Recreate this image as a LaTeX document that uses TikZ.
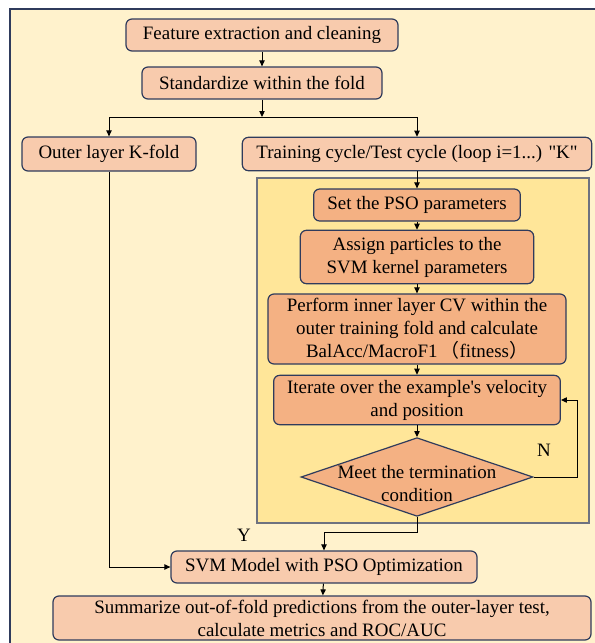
\documentclass[tikz,border=0pt]{standalone}
\usepackage{fontspec}
\setmainfont{Liberation Serif}[Ligatures=TeXOff]
\newfontfamily\cjk{Noto Sans CJK SC}
\usetikzlibrary{shapes.geometric,arrows.meta}
\definecolor{outerbg}{HTML}{FFF2CC}
\definecolor{innerbg}{HTML}{FFE699}
\definecolor{peachlight}{HTML}{F8CBAD}
\definecolor{peachdark}{HTML}{F4B183}
\definecolor{navyline}{HTML}{2F3B5C}
\definecolor{panelline}{HTML}{6E7280}
\tikzset{
	box/.style={draw=navyline, line width=0.9pt, rounded corners=4.5pt, align=center, inner sep=1pt},
	topbox/.style={box, fill=peachlight},
	innerbox/.style={box, fill=peachdark},
	decision/.style={diamond, draw=navyline, line width=0.9pt, fill=peachdark, minimum width=174pt, minimum height=59pt, inner sep=0pt},
	arr/.style={-{Triangle[length=4.5pt,width=4pt]}, line width=0.75pt},
}

\begin{document}
\begin{tikzpicture}[x=0.75pt, y=-0.75pt, font=\fontsize{14.2}{17.25}\selectfont]
				\useasboundingbox (0,0) rectangle (595,643);
				\fill[outerbg] (10,9) rectangle (595,643);
				\draw[navyline, line width=1.2pt] (10,643) -- (10,9) -- (595,9);
				
				\draw[panelline, line width=1pt, fill=innerbg] (257,178) rectangle (589,523);
				
				\node[topbox, minimum width=204pt, minimum height=24pt] (feat) at (262,35) {Feature extraction and cleaning};
				\node[topbox, minimum width=180pt, minimum height=24pt] (std) at (262,83) {Standardize within the fold};
				\coordinate (split) at (262,117);
				\node[topbox, minimum width=130.5pt, minimum height=25.5pt] (outer) at (109,154) {Outer layer K-fold};
				\node[topbox, minimum width=262pt, minimum height=25pt] (train) at (417,154) {Training cycle/Test cycle (loop i=1...) "K"};
				
				\node[innerbox, minimum width=155pt, minimum height=24pt] (pso) at (417,205) {Set the PSO parameters};
				\node[innerbox, minimum width=175pt, minimum height=40pt] (assign) at (417,257) {Assign particles to the\\SVM kernel parameters};
				\node[innerbox, minimum width=223.5pt, minimum height=52.5pt] (perform) at (417,329) {Perform inner layer CV within the\\outer training fold and calculate\\BalAcc/MacroF1\,{\cjk （}fitness{\cjk ）}};
				\node[innerbox, minimum width=215pt, minimum height=37pt] (iter) at (417,400) {Iterate over the example's velocity\\and position};
				\node[decision, label={[align=center, yshift=-5pt]center:Meet the termination\\condition}] (meet) at (417,477) {};
				\coordinate (loopback) at (577,477);
				\coordinate (yes) at (417,532);
				\node (nlabel) at (544,450) {N};
				\node (ylabel) at (244,535) {Y};
				
				\node[topbox, minimum width=229.5pt, minimum height=24pt] (svm) at (324,567) {SVM Model with PSO Optimization};
				\node[topbox, minimum width=403.5pt, minimum height=33pt] (sum) at (322,618) {Summarize out-of-fold predictions from the outer-layer test,\\calculate metrics and ROC/AUC};
				
				\draw[arr] (feat) -- (std);
				\draw[arr] (std) -- (split);
				\draw[arr] (split) -| (outer);
				\draw[arr] (split) -| (train);
				\draw[arr] (train) -- (pso);
				\draw[arr] (pso) -- (assign);
				\draw[arr] (assign) -- (perform);
				\draw[arr] (perform) -- (iter);
				\draw[arr] (iter) -- (meet);
				\draw[arr] (meet.east) -- (loopback) |- (iter.east);
				\draw[arr] (meet.south) -- (yes) -| (svm.north);
				\draw[arr] (outer) |- (svm);
				\draw[arr] (svm) -- (sum);
			\end{tikzpicture}
\end{document}
